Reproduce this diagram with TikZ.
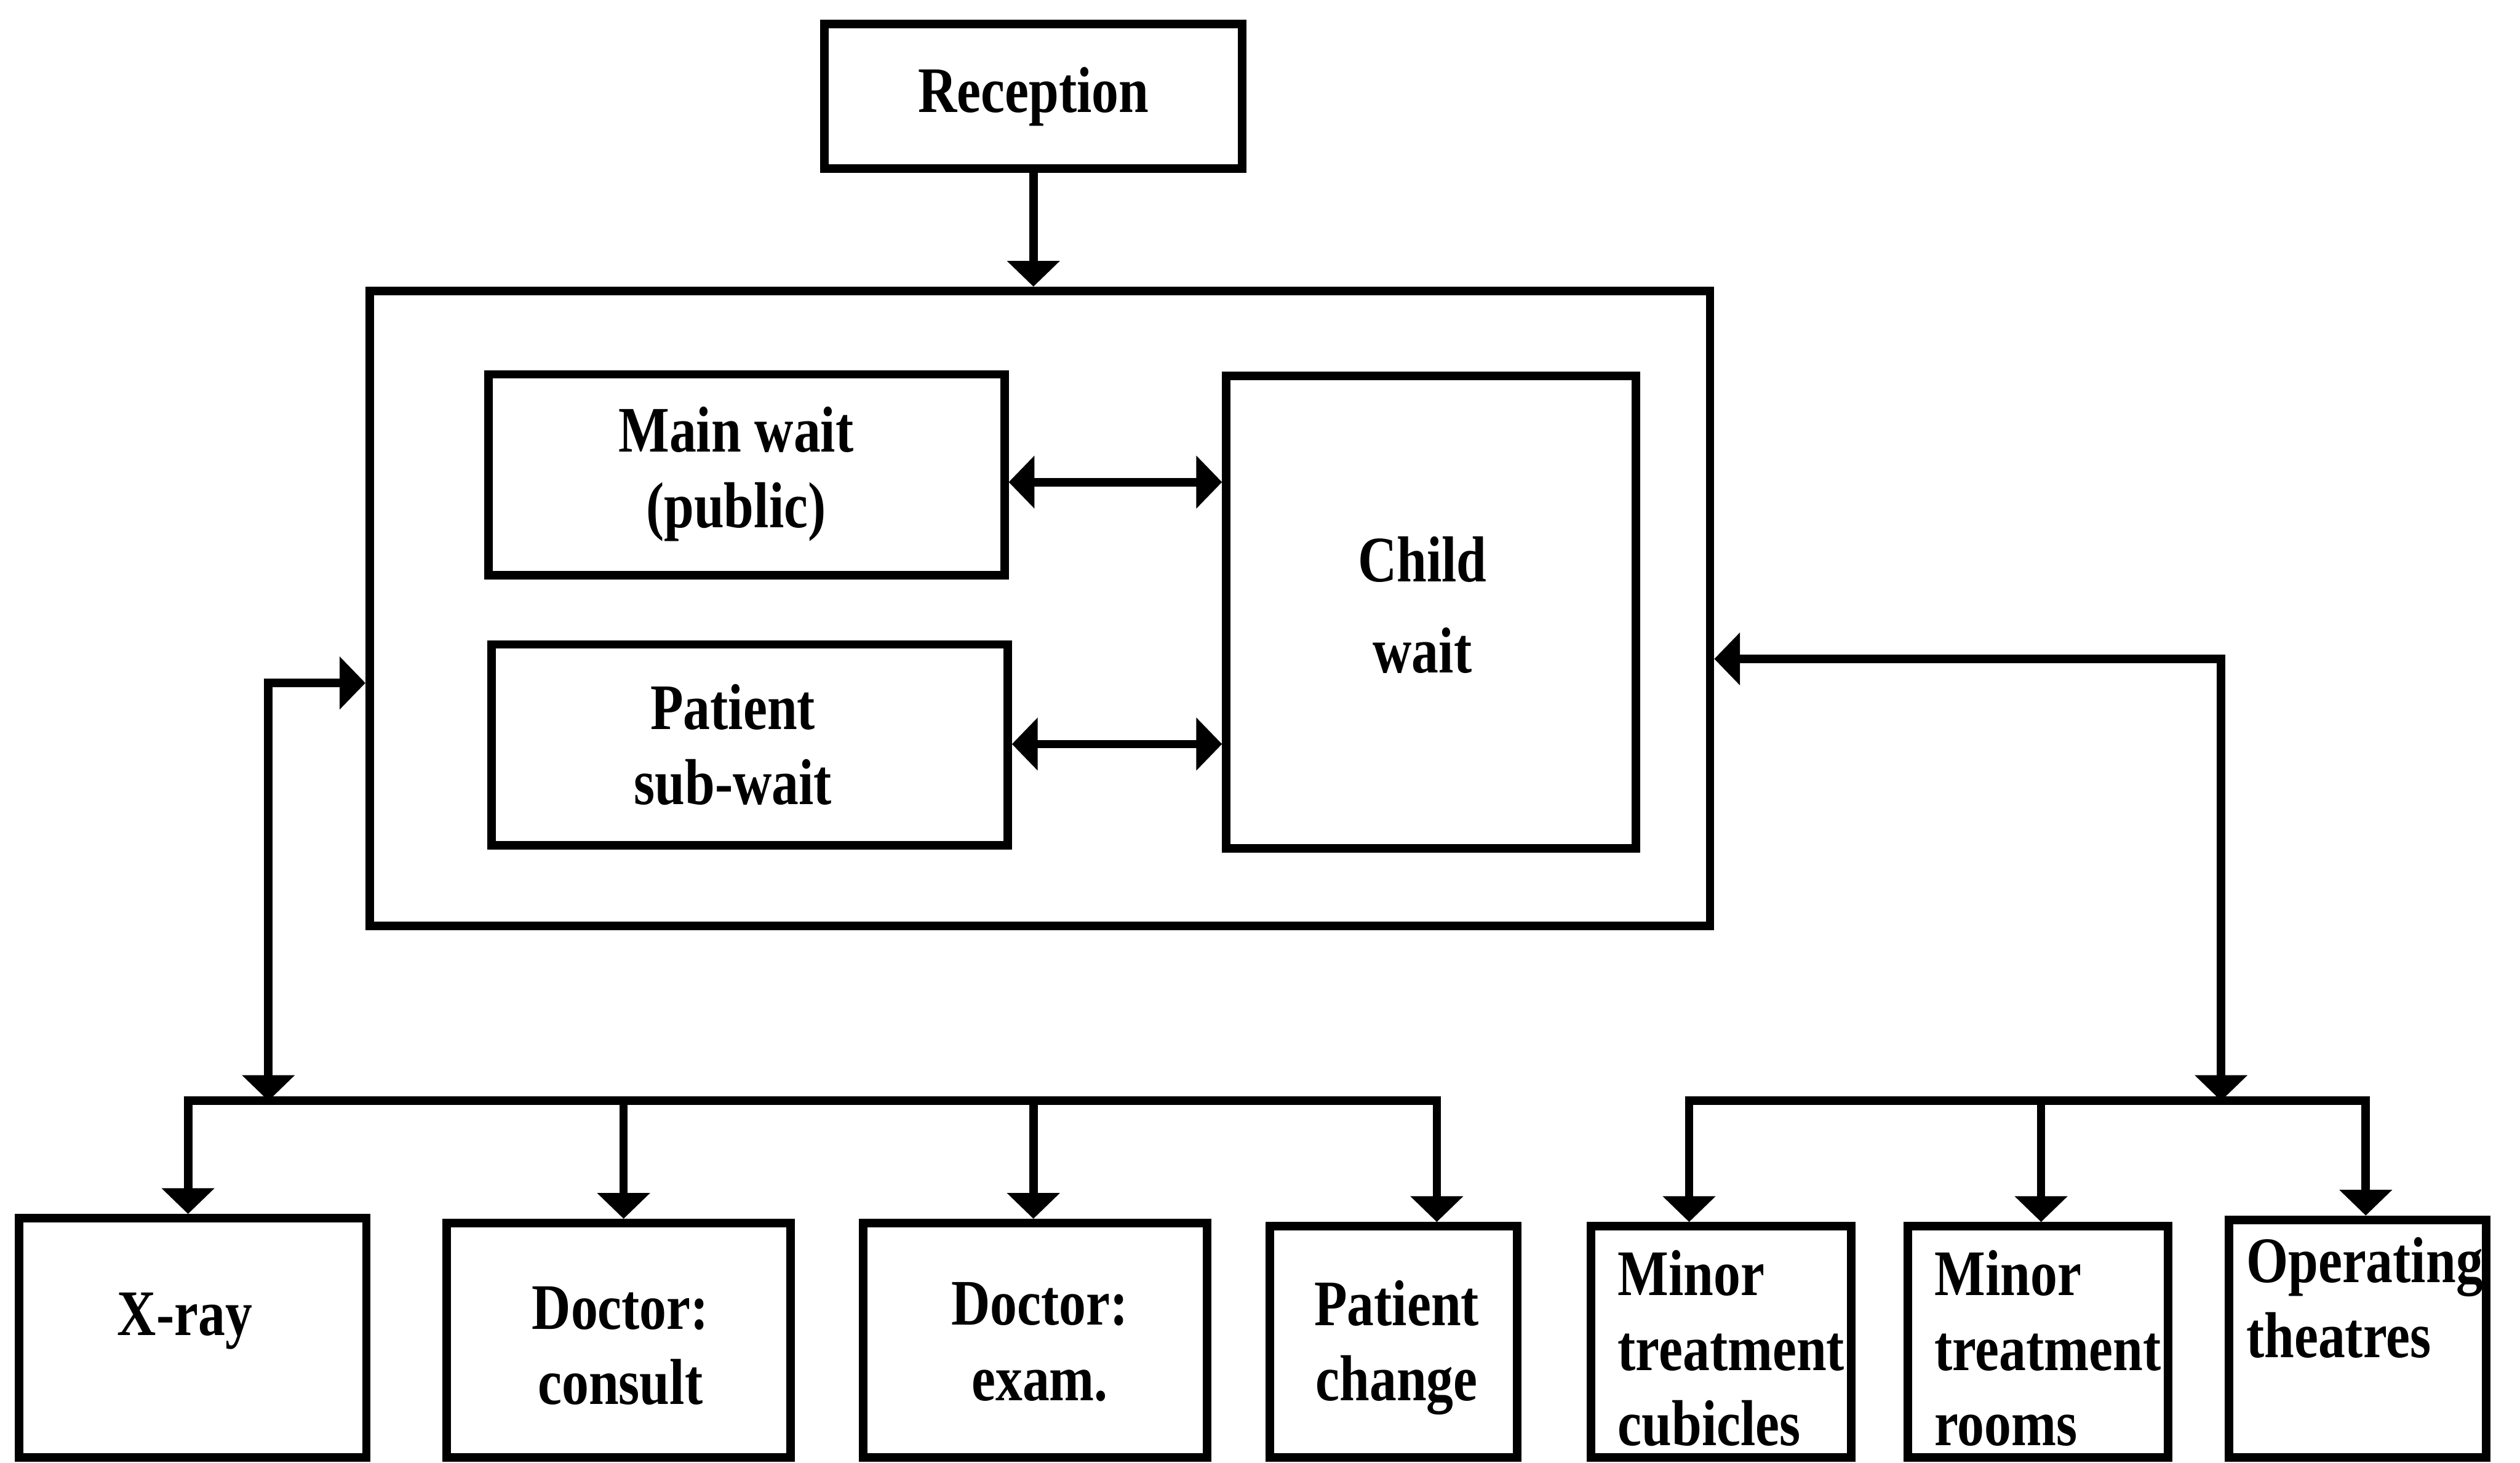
\documentclass[tikz,border=0pt]{standalone}
\usepackage{fontspec}
\setmainfont{Liberation Serif}[FakeStretch=0.83]
\usetikzlibrary{arrows.meta}
\newcommand\labelfont{\bfseries\fontsize{11.5}{13.3}\selectfont}
\begin{document}
\begin{tikzpicture}[
  box/.style={draw, line width=1.5pt, inner sep=0pt, align=center, font=\labelfont},
  lbl/.style={inner sep=0pt, align=center, font=\labelfont},
  link/.style={line width=1.5pt},
  tip/.style={line width=1.5pt, -{Triangle[length=1.6mm,width=3.2mm]}},
  both/.style={line width=1.5pt, {Triangle[length=1.6mm,width=3.2mm]}-{Triangle[length=1.6mm,width=3.2mm]}},
]
\useasboundingbox (0,0) rectangle (15.68,9.10);

% upper part: reception and the waiting area
\node[box, minimum width=2.60cm, minimum height=0.90cm] (rec) at (6.43,8.50) {Reception};
\node[box, minimum width=8.34cm, minimum height=3.95cm] (outer) at (6.47,5.315) {};
\node[box, minimum width=3.21cm, minimum height=1.25cm] (main) at (4.645,6.145) {};
\node[box, minimum width=3.21cm, minimum height=1.25cm] (sub) at (4.665,4.465) {};
\node[box, minimum width=2.55cm, minimum height=2.94cm] (child) at (8.905,5.29) {};
\node[lbl] (mainT) at (4.58,6.15) {Main wait\\(public)};
\node[lbl] (subT) at (4.56,4.465) {Patient\\sub-wait};
\node[lbl] (childT) at (8.85,5.335) {Child\\[0.1cm]wait};

% lower row of rooms
\node[box, minimum width=2.16cm, minimum height=1.49cm] (xray) at (1.20,0.775) {};
\node[box, minimum width=2.14cm, minimum height=1.46cm] (cons) at (3.85,0.76) {};
\node[box, minimum width=2.14cm, minimum height=1.46cm] (exam) at (6.44,0.76) {};
\node[box, minimum width=1.54cm, minimum height=1.44cm] (change) at (8.67,0.75) {};
\node[box, minimum width=1.62cm, minimum height=1.44cm] (cub) at (10.71,0.75) {};
\node[box, minimum width=1.62cm, minimum height=1.44cm] (rooms) at (12.68,0.75) {};
\node[box, minimum width=1.60cm, minimum height=1.48cm] (theat) at (14.67,0.77) {};

\node[lbl] (xrayT) at (1.15,0.88) {X-ray};
\node[lbl] (consT) at (3.86,0.725) {Doctor:\\consult};
\node[lbl] (examT) at (6.47,0.75) {Doctor:\\exam.};
\node[lbl] (changeT) at (8.69,0.715) {Patient\\change};
\node[lbl, anchor=west, align=left] (cubT) at (10.06,0.71) {Minor\\treatment\\cubicles};
\node[lbl, anchor=west, align=left] (roomsT) at (12.03,0.71) {Minor\\treatment\\rooms};
\node[lbl, anchor=west, align=left] (theatT) at (13.97,1.025) {Operating\\theatres};

% junction points of the connectors
\coordinate (mk) at (6.25,6.10);
\coordinate (sk) at (6.45,4.47);
\coordinate (lk) at (1.67,4.85);
\coordinate (lb) at (1.67,2.25);
\coordinate (rk) at (13.82,5.00);
\coordinate (rb) at (13.82,2.25);
\coordinate (dx) at (1.17,2.25);
\coordinate (dc) at (3.88,2.25);
\coordinate (de) at (6.43,2.25);
\coordinate (dp) at (8.94,2.25);
\coordinate (dm) at (10.51,2.25);
\coordinate (dr) at (12.70,2.25);
\coordinate (dt) at (14.72,2.25);

% connectors
\draw[tip] (rec.south) -- (rec.south |- outer.north);
\draw[both] (mk -| main.east) -- (mk -| child.west);
\draw[both] (sk -| sub.east) -- (sk -| child.west);
\draw[both] (lk -| outer.west) -- (lk) -- (lb);
\draw[both] (rk -| outer.east) -- (rk) -- (rb);

\draw[link, line cap=rect] (dx) -- (dp);
\draw[link, line cap=rect] (dm) -- (dt);
\draw[tip] (dx) -- (dx |- xray.north);
\draw[tip] (dc) -- (dc |- cons.north);
\draw[tip] (de) -- (de |- exam.north);
\draw[tip] (dp) -- (dp |- change.north);
\draw[tip] (dm) -- (dm |- cub.north);
\draw[tip] (dr) -- (dr |- rooms.north);
\draw[tip] (dt) -- (dt |- theat.north);
\end{tikzpicture}
\end{document}
